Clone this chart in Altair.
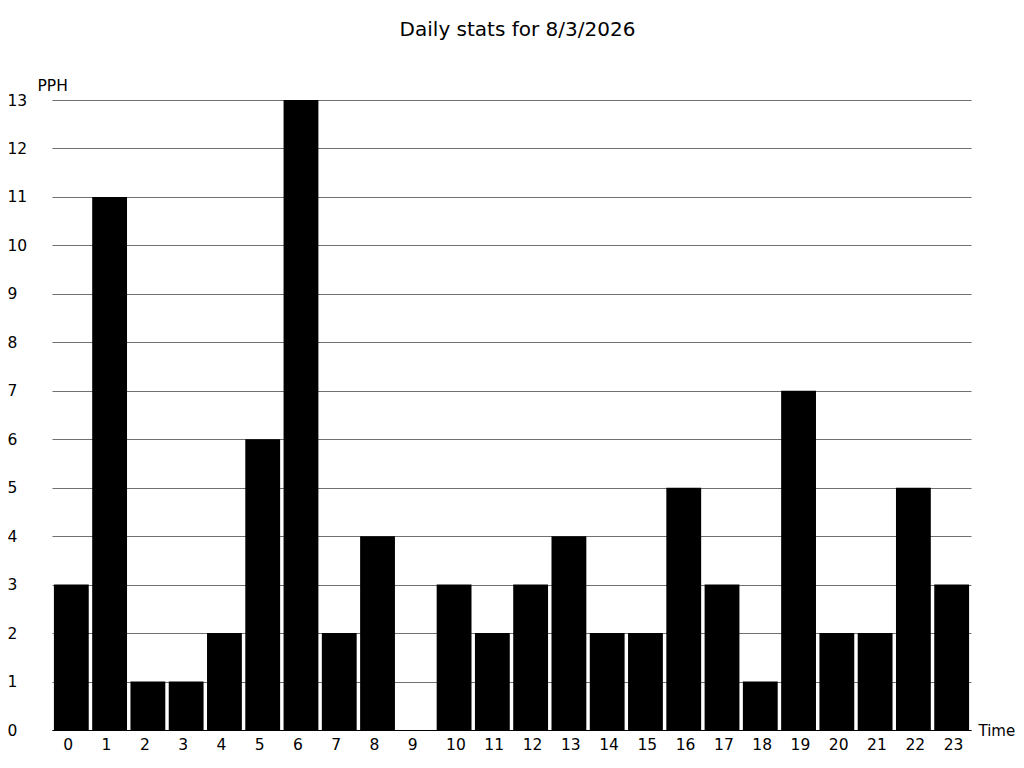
import altair as alt
import pandas as pd

hours = [str(h) for h in range(24)]
pph = [3, 11, 1, 1, 2, 6, 13, 2, 4, 0, 3, 2, 3, 4, 2, 2, 5, 3, 1, 7, 2, 2, 5, 3]

df = pd.DataFrame({"Time": hours, "PPH": pph})

FONT = "DejaVu Sans"
LFS = 15.5

chart = alt.Chart(df).mark_bar(color="black").encode(
    x=alt.X("Time:N", sort=hours,
            scale=alt.Scale(paddingInner=0.09, paddingOuter=0.05),
            axis=alt.Axis(title="Time", labelAngle=0, ticks=False, domain=True,
                          domainColor="black", domainWidth=1,
                          labelFont=FONT, labelFontSize=LFS, labelColor="black",
                          labelAlign="left", labelOffset=-8,
                          labelPadding=7,
                          titleFont=FONT, titleFontSize=15, titleFontWeight="normal",
                          titleColor="black", titleAngle=0, titleAlign="left",
                          titleBaseline="alphabetic", titleX=926, titleY=5)),
    y=alt.Y("PPH:Q", scale=alt.Scale(domain=[0, 13], nice=False),
            axis=alt.Axis(title="PPH", values=list(range(14)), ticks=False, domain=False,
                          grid=True, gridColor="#707070", gridWidth=1,
                          labelFont=FONT, labelFontSize=LFS, labelColor="black",
                          labelAlign="left", labelPadding=45, labelBaseline="middle",
                          titleFont=FONT, titleFontSize=LFS, titleFontWeight="normal",
                          titleColor="black", titleAngle=0, titleAlign="left",
                          titleBaseline="alphabetic", titleX=-15, titleY=-10)),
).properties(
    width=919,
    height=630,
    title=alt.TitleParams("Daily stats for 8/3/2026", font=FONT, fontSize=20,
                          fontWeight="normal", color="black", anchor="middle",
                          dx=6, offset=38),
    autosize=alt.AutoSizeParams(type="none"),
    padding={"left": 44, "top": 92, "right": 45, "bottom": 24},
).configure_view(stroke=None)

chart.save("out.html", embed_options={"renderer": "svg", "actions": False})
